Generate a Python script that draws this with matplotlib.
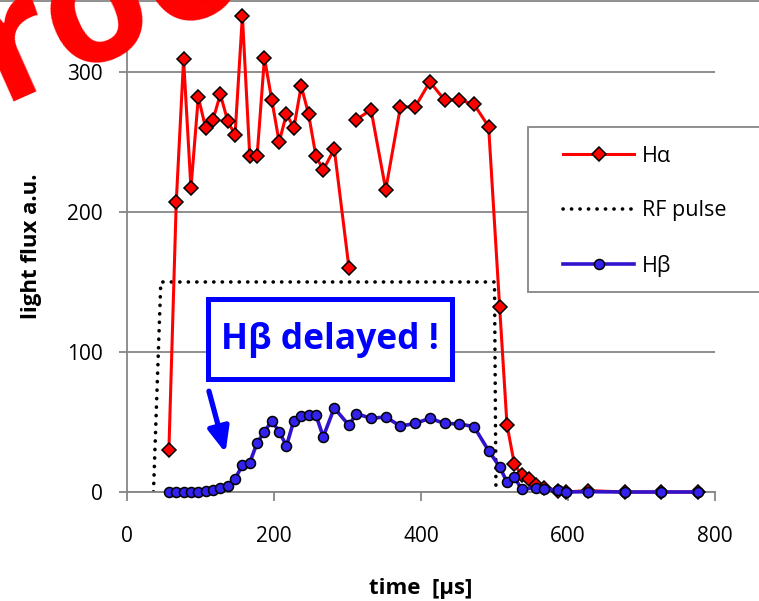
import matplotlib

matplotlib.use("Agg")
import matplotlib.pyplot as plt
import numpy as np
from matplotlib.lines import Line2D
from matplotlib.patches import Rectangle

plt.rcParams["font.family"] = ["Open Sans", "DejaVu Sans"]

# --- data --------------------------------------------------------------------
ha_time = [57, 67, 77, 87, 97, 107, 117, 127, 137, 147, 157, 167, 177, 187, 197,
           207, 217, 227, 237, 247, 257, 267, 282, 302, 307, 312, 332, 352, 372,
           392, 412, 432, 452, 472, 492, 507, 517, 527, 537, 547, 557, 567, 587,
           597, 627, 677, 727, 777]
ha_flux = [30, 207, 309, 217, 282, 260, 266, 284, 265, 255, 340, 240, 240, 310,
           280, 250, 270, 260, 290, 270, 240, 230, 245, 160, np.nan, 266, 273,
           216, 275, 275, 293, 280, 280, 277, 261, 132, 48, 20, 12, 9, 5, 3, 1,
           0, 1, 0, 0, 0]

hb_time = [57, 67, 77, 87, 97, 107, 117, 127, 137, 147, 157, 167, 177, 187, 197,
           207, 217, 227, 237, 247, 257, 267, 282, 302, 312, 332, 352, 372, 392,
           412, 432, 452, 472, 492, 507, 517, 527, 537, 557, 567, 587, 597, 627,
           677, 727, 777]
hb_flux = [0, 0, 0, 0, 0, 0.5, 1.4, 2.6, 4.3, 9.5, 19, 21, 35, 43, 51, 43, 33,
           51, 54, 55, 55, 39.5, 60, 47.6, 56, 52.6, 53.6, 47, 49, 52.6, 49,
           48.6, 46.7, 29.5, 18, 7, 10.5, 2, 3, 2, 1.5, 0, 0.2, 0, 0, 0]

rf_time = [36, 46, 500, 502]
rf_flux = [0, 150, 150, 0]

x_ticks = [0, 200, 400, 600, 800]
y_ticks = [0, 100, 200, 300]

GRAY = "#868686"
RED = "#FF0000"
BLUE_LINE = "#3312CC"
BLUE_FILL = "#3322EE"

W, H = 759, 601
fig = plt.figure(figsize=(W / 100, H / 100), dpi=100)
ax = fig.add_axes([127 / W, 1 - 492 / H, (715 - 127) / W, 492 / H])

ax.plot(ha_time, ha_flux, color=RED, lw=2.2, marker="D", markersize=7.3,
        markerfacecolor=RED, markeredgecolor="black", markeredgewidth=1.1,
        label="H\u03b1", clip_on=False, zorder=3)
ax.plot(rf_time, rf_flux, color="black", lw=2.6, linestyle=(0, (0.05, 2.3)),
        dash_capstyle="round", label="RF pulse", zorder=2)
ax.plot(hb_time, hb_flux, color=BLUE_LINE, lw=2.6, marker="o", markersize=7.2,
        markerfacecolor=BLUE_FILL, markeredgecolor="black", markeredgewidth=1.1,
        label="H\u03b2", clip_on=False, zorder=4)

ax.set_xlim(0, 800)
ax.set_ylim(0, 351.4)
ax.set_xticks(x_ticks)
ax.set_yticks(y_ticks)
ax.grid(axis="y", color=GRAY, lw=1.3)
ax.set_axisbelow(True)
for side in ["top", "right"]:
    ax.spines[side].set_visible(False)
for side in ["left", "bottom"]:
    ax.spines[side].set_color(GRAY)
    ax.spines[side].set_linewidth(1.3)
ax.tick_params(axis="both", colors=GRAY, labelcolor="black", labelsize=15,
               width=1.3)
ax.tick_params(axis="x", length=6.5, pad=18)
ax.tick_params(axis="y", length=5.5, pad=12)

ax.set_xlabel("time  [\u00b5s]", fontsize=16, fontweight="bold", labelpad=22)
ax.set_ylabel("light flux a.u.", fontsize=16, fontweight="bold", labelpad=18)

# annotation box + arrow
ax.add_patch(Rectangle((110, 80.7), 332, 57.2, facecolor="white",
                       edgecolor="#0000FF", lw=3.6, zorder=5))
ax.text(276, 108.5, "H\u03b2 delayed !", color="#0000FF", fontsize=25.5,
        fontweight="bold", ha="center", va="center", zorder=6)
ax.annotate("", xy=(134, 28), xytext=(111.5, 72),
            arrowprops=dict(arrowstyle="-|>,head_length=0.75,head_width=0.32",
                            color="#0000FF", lw=3.8, mutation_scale=20,
                            shrinkA=0, shrinkB=0), zorder=6)

# legend frame (cut by the right edge of the picture)
fig.add_artist(Rectangle((528 / W, 1 - 292 / H), (780 - 528) / W, 165 / H,
                         transform=fig.transFigure, facecolor="white",
                         edgecolor=GRAY, lw=1.3, zorder=2))
fig.legend(loc="upper left", bbox_to_anchor=(563 / W, 1 - 146 / H),
           frameon=False, fontsize=15.5, handlelength=3.3, handletextpad=0.35,
           labelspacing=1.55, borderpad=0, borderaxespad=0, numpoints=1)

# top border line of the (cropped) chart area
fig.add_artist(Line2D([0, 1], [1 - 0.8 / H] * 2, transform=fig.transFigure,
                      color=GRAY, lw=1.3, zorder=1))

# cropped red stamp in the upper-left corner
fig.text(-95 / W, 1 - 143 / H, "Proof", color=RED, fontsize=120,
         fontweight="bold", rotation=24, rotation_mode="anchor",
         ha="left", va="baseline", zorder=10)

fig.savefig("out.png", dpi=100)
